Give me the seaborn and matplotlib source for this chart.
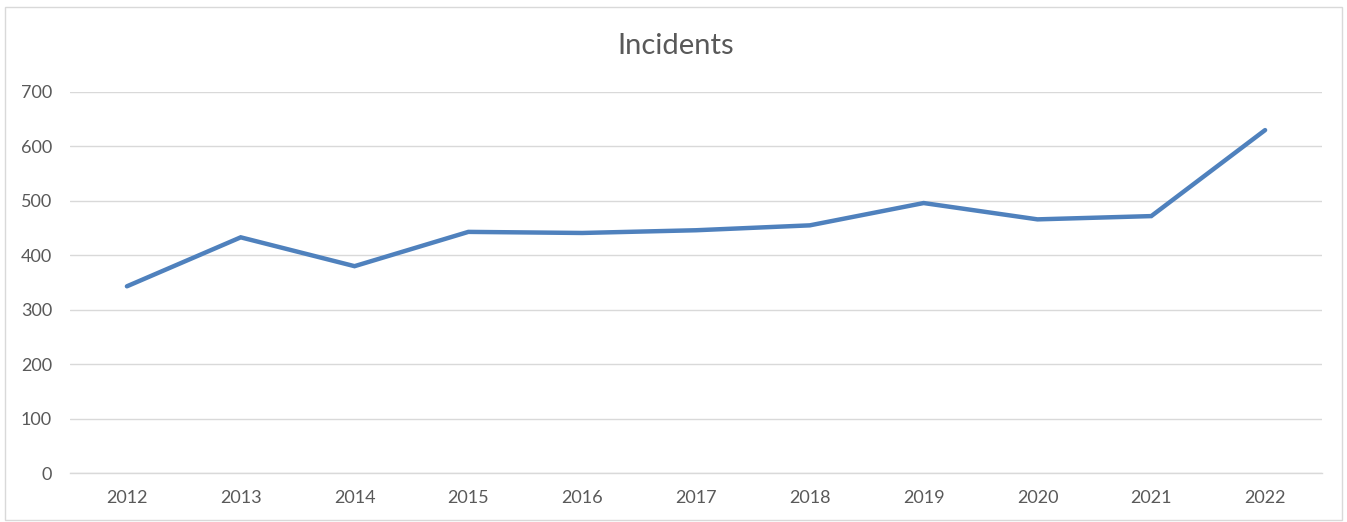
"""
Incidents per year, Excel-style line chart.
"""

import matplotlib.pyplot as plt
import matplotlib.patches as mpatches
import seaborn as sns
import pandas as pd
import numpy as np

years = ["2012", "2013", "2014", "2015", "2016", "2017",
         "2018", "2019", "2020", "2021", "2022"]
incidents = [343, 433, 380, 443, 441, 446, 455, 496, 466, 472, 630]
y_ticks = [0, 100, 200, 300, 400, 500, 600, 700]

sns.set_style("white")
plt.rcParams["font.family"] = ["Lato", "DejaVu Sans"]

text_color = "#595959"
grid_color = "#D9D9D9"
line_color = "#4F81BD"

df = pd.DataFrame({"year": years, "incidents": incidents})

fig = plt.figure(figsize=(13.47, 5.22), dpi=100)
ax = fig.add_axes([70 / 1347, 1 - 473 / 522, (1322 - 70) / 1347, (473 - 92) / 522])

sns.lineplot(data=df, x="year", y="incidents", ax=ax, color=line_color,
             linewidth=3.2, solid_capstyle="round", solid_joinstyle="miter", sort=False)

ax.set_xlim(-0.5, len(years) - 0.5)
ax.set_ylim(0, 700)
ax.set_yticks(y_ticks)
ax.set_xlabel("")
ax.set_ylabel("")
fig.text(676 / 1347, 1 - 46 / 522, "Incidents", fontsize=21, color=text_color,
         ha="center", va="center")

ax.yaxis.grid(True, color=grid_color, linewidth=1)
ax.set_axisbelow(True)
for side in ["top", "right", "left"]:
    ax.spines[side].set_visible(False)
ax.spines["bottom"].set_color(grid_color)
ax.spines["bottom"].set_linewidth(1)

ax.set_xticks(np.arange(-0.5, len(years)), minor=True)
ax.tick_params(axis="x", which="minor", length=5, color=grid_color, width=1, direction="out")
ax.tick_params(axis="x", which="major", length=0, pad=12, labelsize=13, labelcolor=text_color)
ax.tick_params(axis="y", length=0, pad=13, labelsize=13, labelcolor=text_color)

fig.patches.append(mpatches.Rectangle((5 / 1347, 2 / 522), 1337 / 1347, 513 / 522,
                                      transform=fig.transFigure, fill=False,
                                      edgecolor=grid_color, linewidth=1))

fig.savefig("out.png", dpi=100)
